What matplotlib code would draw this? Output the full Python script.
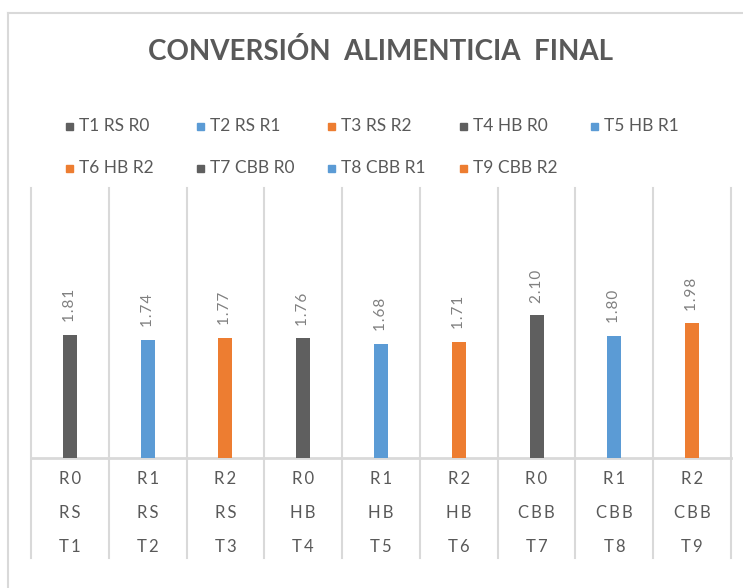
import matplotlib
matplotlib.use("Agg")
import matplotlib.pyplot as plt
from matplotlib.patches import Rectangle
from matplotlib.lines import Line2D
from matplotlib import transforms

# ---- data ----
treatments = ["T1", "T2", "T3", "T4", "T5", "T6", "T7", "T8", "T9"]
sources = ["RS", "RS", "RS", "HB", "HB", "HB", "CBB", "CBB", "CBB"]
levels = ["R0", "R1", "R2", "R0", "R1", "R2", "R0", "R1", "R2"]
values = [1.81, 1.74, 1.77, 1.76, 1.68, 1.71, 2.10, 1.80, 1.98]
series_names = ["T1 RS R0", "T2 RS R1", "T3 RS R2", "T4 HB R0", "T5 HB R1",
                "T6 HB R2", "T7 CBB R0", "T8 CBB R1", "T9 CBB R2"]
title = "CONVERSIÓN  ALIMENTICIA  FINAL"

# ---- style ----
DARK = "#5f5f5f"
BLUE = "#5b9bd5"
ORANGE = "#ed7d31"
level_colors = {"R0": DARK, "R1": BLUE, "R2": ORANGE}
colors = [level_colors[l] for l in levels]
GRID = "#d9d9d9"
TXT = "#595959"
FONT = ["Lato", "DejaVu Sans"]

W, H = 743, 588
fig = plt.figure(figsize=(W / 100, H / 100), dpi=100)

def fx(px):
    return px / W

def fy(py):
    return 1 - py / H

# outer chart frame (left + top edges visible)
fig.add_artist(Line2D([fx(8), fx(8)], [fy(13), 0], color=GRID, lw=1.5))
fig.add_artist(Line2D([fx(8), 1], [fy(13), fy(13)], color=GRID, lw=1.5))

ax_left, ax_right = 31, 731
ax_top, ax_bottom = 188, 458
ax = fig.add_axes([fx(ax_left), fy(ax_bottom), fx(ax_right - ax_left), (ax_bottom - ax_top) / H])

n = len(values)
x = list(range(n))
bars = ax.bar(x, values, width=0.18, color=colors, zorder=3)
ax.set_xlim(-0.5, n - 0.5)
ax.set_ylim(0, 3.97)

for s in ["top", "right", "left"]:
    ax.spines[s].set_visible(False)
ax.spines["bottom"].set_color(GRID)
ax.spines["bottom"].set_linewidth(2)
ax.set_yticks([])
ax.set_xticks([])

# category separators (extend below axis through label rows)
below = -(558 - ax_bottom) / (ax_bottom - ax_top)
for b in [i - 0.5 for i in range(n + 1)]:
    ax.axvline(b, ymin=below, ymax=1, color=GRID, lw=1.5, clip_on=False, zorder=1)

# value labels
for xi, v in zip(x, values):
    ax.annotate("\u200a".join(f"{v:.2f}"), (xi, v), xytext=(0, 9), textcoords="offset points",
                rotation=90, ha="center", va="bottom", fontsize=11,
                color="#808080", family=FONT)

# multi-level category labels
trans = transforms.blended_transform_factory(ax.transData, ax.transAxes)
row_y = [479, 513, 547]
for i in range(n):
    for ry, lab in zip(row_y, [levels[i], sources[i], treatments[i]]):
        yy = -(ry - ax_bottom) / (ax_bottom - ax_top)
        ax.text(i, yy, "\u2009".join(lab), transform=trans, ha="center", va="center",
                fontsize=12, color=TXT, family=FONT)

# title
fig.text(fx(380), fy(52), title, ha="center", va="center", fontsize=20,
         fontweight="bold", color=TXT, family=FONT)

# legend
leg_x = [66, 197, 328, 460, 591]
leg_y = [126, 168]
for k, (name, c) in enumerate(zip(series_names, colors)):
    r, col = divmod(k, 5)
    px, py = leg_x[col], leg_y[r]
    fig.add_artist(Rectangle((fx(px), fy(py + 3.5)), fx(7), 7 / H, color=c,
                             transform=fig.transFigure))
    fig.text(fx(px + 13), fy(py), name, ha="left", va="center", fontsize=12.5,
             color=TXT, family=FONT)

fig.savefig("out.png", dpi=100)
